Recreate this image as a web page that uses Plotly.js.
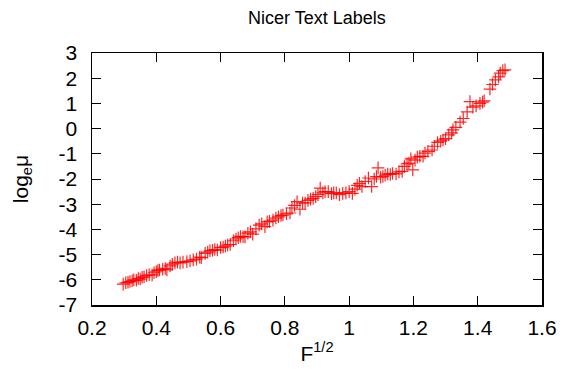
<!DOCTYPE html>
<html>
<head>
<meta charset="utf-8">
<script src="https://cdn.plot.ly/plotly-3.0.1.min.js"></script>
<style>html,body{margin:0;padding:0;background:#fff;}#chart{width:563px;height:372px;}</style>
</head>
<body>
<div id="chart"></div>
<script>
const xValues = [0.297,0.305,0.312,0.318,0.325,0.330,0.338,0.344,0.350,0.356,0.362,0.370,0.378,0.387,0.393,0.400,0.405,0.410,0.420,0.428,0.433,0.443,0.450,0.458,0.466,0.474,0.483,0.495,0.505,0.515,0.525,0.535,0.540,0.552,0.560,0.567,0.575,0.582,0.590,0.600,0.608,0.615,0.622,0.630,0.640,0.648,0.655,0.662,0.670,0.676,0.685,0.693,0.700,0.710,0.720,0.728,0.738,0.745,0.752,0.763,0.772,0.780,0.788,0.794,0.805,0.816,0.822,0.830,0.838,0.847,0.855,0.863,0.872,0.880,0.888,0.896,0.903,0.910,0.918,0.925,0.935,0.945,0.952,0.960,0.970,0.980,0.990,1.000,1.010,1.018,1.025,1.032,1.040,1.050,1.060,1.070,1.078,1.085,1.090,1.098,1.105,1.112,1.120,1.128,1.135,1.146,1.155,1.165,1.172,1.180,1.186,1.192,1.198,1.205,1.212,1.220,1.230,1.236,1.245,1.258,1.265,1.275,1.285,1.292,1.300,1.310,1.319,1.323,1.332,1.345,1.355,1.367,1.376,1.385,1.395,1.407,1.415,1.420,1.438,1.446,1.455,1.465,1.470,1.478,1.485];
const yValues = [-6.17,-6.12,-6.10,-6.07,-6.04,-6.00,-6.02,-5.95,-5.97,-5.90,-5.88,-5.83,-5.80,-5.81,-5.72,-5.68,-5.63,-5.61,-5.58,-5.55,-5.61,-5.45,-5.38,-5.33,-5.30,-5.33,-5.30,-5.28,-5.25,-5.21,-5.18,-5.10,-5.12,-4.95,-4.90,-4.85,-4.83,-4.80,-4.82,-4.72,-4.70,-4.66,-4.62,-4.60,-4.45,-4.38,-4.33,-4.28,-4.29,-4.30,-4.15,-4.10,-4.19,-3.98,-3.83,-3.78,-3.89,-3.70,-3.68,-3.63,-3.55,-3.50,-3.45,-3.43,-3.38,-3.35,-3.15,-3.05,-2.90,-3.20,-2.95,-2.95,-2.85,-2.80,-2.77,-2.70,-2.62,-2.36,-2.55,-2.50,-2.50,-2.58,-2.55,-2.55,-2.62,-2.57,-2.55,-2.50,-2.57,-2.40,-2.25,-2.17,-2.30,-2.10,-1.96,-2.30,-2.00,-1.90,-1.56,-1.93,-1.90,-1.85,-1.80,-1.82,-1.78,-1.80,-1.72,-1.70,-1.50,-1.40,-1.37,-1.20,-1.64,-1.25,-1.13,-1.10,-1.10,-0.97,-0.90,-0.85,-0.70,-0.55,-0.50,-0.45,-0.40,-0.25,-0.17,-0.05,0.05,0.26,0.40,0.66,1.07,0.85,0.90,1.00,1.05,1.10,1.57,1.75,1.93,2.05,2.20,2.30,2.33];
const xTicks = [0.2,0.4,0.6,0.8,1,1.2,1.4,1.6];
const yTicks = [-7,-6,-5,-4,-3,-2,-1,0,1,2,3];

const family = 'Liberation Sans, Arial, sans-serif';
const tickFont = {family: family, size: 21, color: '#000'};
const axisCommon = {
  showgrid: false, zeroline: false, showline: true, linecolor: '#000', linewidth: 1.5,
  mirror: 'ticks', ticks: 'inside', ticklen: 9, tickwidth: 1, tickcolor: '#000',
  tickfont: tickFont, tickmode: 'array'
};
Plotly.newPlot('chart', [{
  x: xValues, y: yValues, type: 'scatter', mode: 'markers',
  marker: {symbol: 'cross-thin-open', size: 9, color: 'rgba(255,0,0,0.85)', line: {color: 'rgba(255,0,0,0.85)', width: 1.2}},
  hoverinfo: 'skip'
}], {
  width: 563, height: 372,
  margin: {l: 92, r: 21, t: 53, b: 67},
  paper_bgcolor: '#fff', plot_bgcolor: '#fff',
  showlegend: false,
  title: {text: 'Nicer Text Labels', font: {family: family, size: 18, color: '#000'}, x: 0.563, xanchor: 'center', y: 0.952, yanchor: 'middle'},
  xaxis: Object.assign({}, axisCommon, {range: [0.2, 1.6], tickvals: xTicks, ticktext: xTicks.map(String),
    ticklabelstandoff: 3,
    title: {text: 'F<sup>1/2</sup>', font: {family: family, size: 21, color: '#000'}, standoff: 8}}),
  yaxis: Object.assign({}, axisCommon, {range: [-7, 3], tickvals: yTicks, ticktext: yTicks.map(String),
    ticklabelstandoff: 9,
    title: {text: 'log<sub>e</sub>μ', font: {family: family, size: 21, color: '#000'}, standoff: 24}})
}, {staticPlot: true});
</script>
</body>
</html>
